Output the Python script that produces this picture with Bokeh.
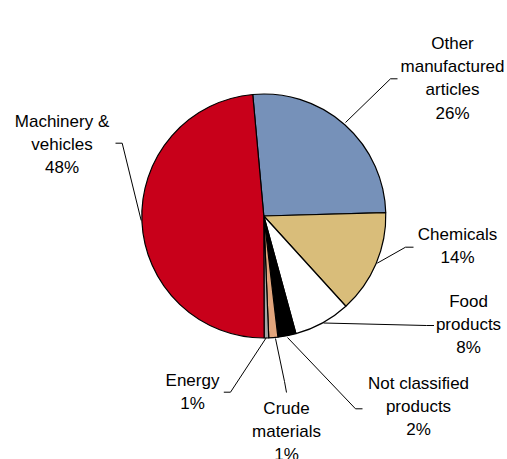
import math
from bokeh.plotting import figure
from bokeh.models import Range1d, ColumnDataSource
from bokeh.core.properties import value
from bokeh.embed import file_html
from bokeh.resources import INLINE

# ---- data ----
categories = ["Other manufactured articles", "Chemicals", "Food products",
              "Not classified products", "Crude materials", "Energy",
              "Machinery & vehicles"]
values = [26.0, 13.7, 7.5, 2.4, 1.2, 0.6, 48.6]
pct_labels = ["26%", "14%", "8%", "2%", "1%", "1%", "48%"]
label_lines = [["Other", "manufactured", "articles"], ["Chemicals"], ["Food", "products"],
               ["Not classified", "products"], ["Crude", "materials"], ["Energy"],
               ["Machinery &", "vehicles"]]
colors = ["#7691B9", "#D9BD7A", "#FFFFFF", "#000000", "#E2A57C", "#A6A6A6", "#C8001A"]

# ---- layout (picture pixel coords, y downward) ----
W, H = 507, 459
cx, cy, R = 263.3, 215.5, 122
start_deg = -5.2  # clockwise from 12 o'clock

def Y(y):
    return H - y

label_pos = [(452, 43), (457, 234), (468, 301), (418, 383), (286, 408), (192, 380), (61.5, 120.7)]
line_h = 23.2
leaders = [
    [(345, 122), (390, 78.3), (397, 78.3)],
    [(376.7, 262.7), (405, 246.7), (413, 246.7)],
    [(323, 322.5), (426, 325), (433.5, 325)],
    [(287, 337), (355, 408.3), (362, 408.3)],
    [(275, 338), (284, 381), (286, 392)],
    [(265.7, 337.3), (230, 391.7), (223.3, 391.7)],
    [(140.7, 220), (121.7, 142.7), (115, 142.7)],
]

p = figure(width=W, height=H, output_backend="svg", toolbar_location=None,
           x_range=Range1d(0, W), y_range=Range1d(0, H),
           min_border=0, background_fill_color="white")
p.axis.visible = False
p.grid.visible = False
p.outline_line_color = None

total = sum(values)
starts, ends = [], []
acc = start_deg
for v in values:
    a0 = acc
    a1 = acc + v / total * 360.0
    starts.append(math.radians(90 - a0))
    ends.append(math.radians(90 - a1))
    acc = a1

src = ColumnDataSource(dict(start=starts, end=ends, color=colors, cat=categories))
p.wedge(x=cx, y=Y(cy), radius=R, start_angle="start", end_angle="end",
        direction="clock", fill_color="color", line_color="black", line_width=1.2,
        source=src)

p.multi_line(xs=[[pt[0] for pt in l] for l in leaders],
             ys=[[Y(pt[1]) for pt in l] for l in leaders],
             line_color="black", line_width=1)

tx, ty, tt = [], [], []
for (x0, y0), lines, pct in zip(label_pos, label_lines, pct_labels):
    for i, t in enumerate(lines + [pct]):
        tx.append(x0)
        ty.append(Y(y0 + i * line_h))
        tt.append(t)
p.text(x=tx, y=ty, text=tt, text_align="center", text_baseline="middle",
       text_font=value("Liberation Sans"), text_font_size="17px", text_color="#000000")

open("out.html", "w").write(file_html(p, INLINE))
